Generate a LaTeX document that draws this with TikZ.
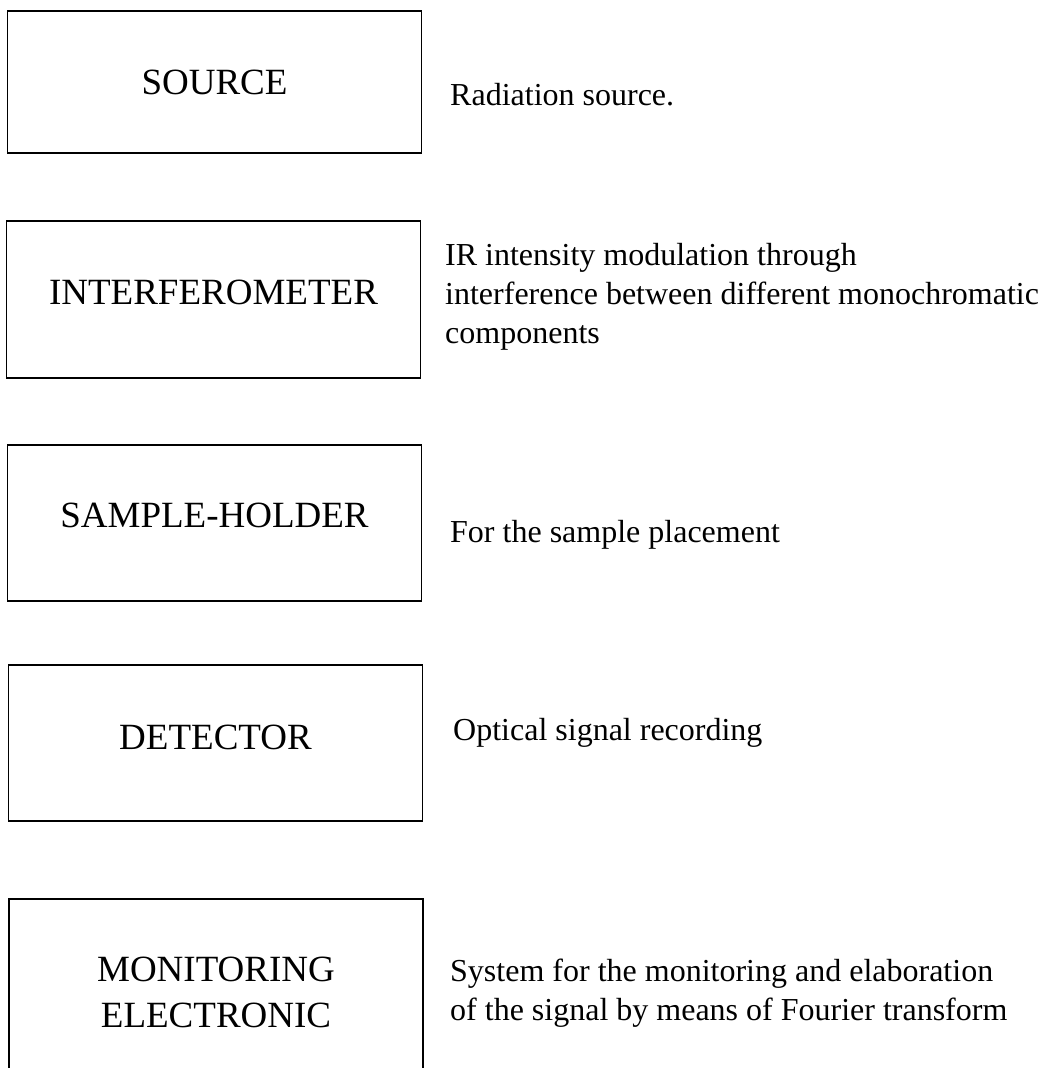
\documentclass[tikz,border=0pt]{standalone}
\usepackage{fontspec}
\setmainfont{Liberation Serif}
\usepackage{tikz}
\tikzset{blk/.style={draw, line width=1.5pt, rectangle, minimum width=414pt, minimum height=148pt, inner sep=0pt, align=center, font=\fontsize{37}{46}\selectfont, text height=24pt, text depth=0pt}}
\tikzset{desc/.style={anchor=base west, inner sep=0pt, align=left, font=\fontsize{32}{39}\selectfont}}

\begin{document}
\begin{tikzpicture}[x=1pt, y=-1pt]
                    \useasboundingbox (0,0) rectangle (1046,1068);

                    \node[blk, minimum height=142pt] (src) at (214.5,82) {SOURCE};
                    \node[blk, minimum height=157pt, text depth=14pt] (ifm) at (213.5,299.5) {INTERFEROMETER};
                    \node[blk, minimum height=156pt, text depth=16pt] (smp) at (214.5,523) {SAMPLE-HOLDER};
                    \node[blk, minimum height=156pt, text depth=12pt] (det) at (215.5,743) {DETECTOR};
                    \node[blk, minimum height=200pt, text height=70pt, text depth=14pt] (mon) at (216,999) {MONITORING\\ELECTRONIC};

                    \node[desc] (srcd) at (450,105) {Radiation source.};
                    \node[desc] (ifmd) at (445,343) {IR intensity modulation through\\interference between different monochromatic\\components};
                    \node[desc] (smpd) at (450,542) {For the sample placement};
                    \node[desc] (detd) at (453,740) {Optical signal recording};
                    \node[desc] (mond) at (450,1020) {System for the monitoring and elaboration\\of the signal by means of Fourier transform};
                \end{tikzpicture}
\end{document}
